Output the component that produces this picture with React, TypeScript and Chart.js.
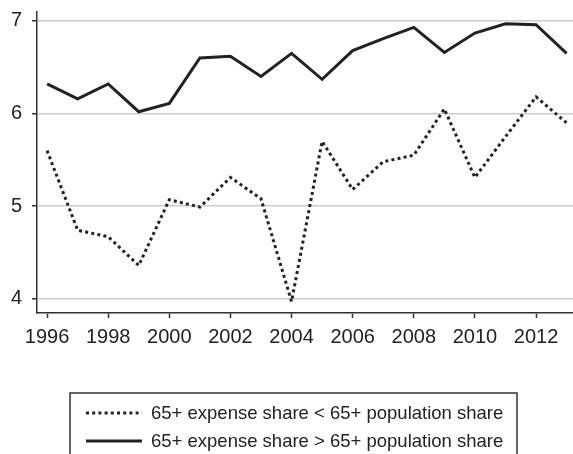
import React, { useEffect, useRef } from "react";
import { Chart, registerables } from "chart.js";

Chart.register(...registerables);

// Survey years
const years = [
  1996, 1997, 1998, 1999, 2000, 2001, 2002, 2003, 2004,
  2005, 2006, 2007, 2008, 2009, 2010, 2011, 2012, 2013,
];

// Group where the 65+ expense share is below the 65+ population share
const belowShare = [
  5.6, 4.74, 4.67, 4.36, 5.07, 4.99, 5.31, 5.08, 3.97,
  5.7, 5.18, 5.48, 5.55, 6.05, 5.31, 5.75, 6.18, 5.9,
];

// Group where the 65+ expense share is above the 65+ population share
const aboveShare = [
  6.32, 6.16, 6.32, 6.02, 6.11, 6.6, 6.62, 6.4, 6.65,
  6.37, 6.68, 6.81, 6.93, 6.66, 6.87, 6.97, 6.96, 6.65,
];

const xTickLabels = [1996, 1998, 2000, 2002, 2004, 2006, 2008, 2010, 2012];
const yTickLabels = [4, 5, 6, 7];

const seriesNames = [
  "65+ expense share < 65+ population share",
  "65+ expense share > 65+ population share",
];

const FONT = "'Liberation Sans', Arial, Helvetica, sans-serif";
const INK = "#222222";
const AXIS = "#333333";

// Boxed legend drawn below the x axis
const boxLegend = {
  id: "boxLegend",
  afterDraw(chart: Chart) {
    const ctx = chart.ctx;
    ctx.save();
    ctx.strokeStyle = AXIS;
    ctx.lineWidth = 1.5;
    ctx.strokeRect(70, 393, 447, 80);
    const rows = [413, 441];
    chart.data.datasets.forEach((ds: any, i: number) => {
      const y = rows[i];
      ctx.beginPath();
      ctx.strokeStyle = ds.borderColor;
      ctx.lineWidth = ds.borderWidth;
      ctx.lineCap = "butt";
      ctx.setLineDash(ds.borderDash || []);
      ctx.moveTo(86, y);
      ctx.lineTo(142, y);
      ctx.stroke();
      ctx.setLineDash([]);
      ctx.fillStyle = INK;
      ctx.font = `18.5px ${FONT}`;
      ctx.textBaseline = "middle";
      ctx.textAlign = "left";
      ctx.fillText(ds.label, 151, y + 1);
    });
    ctx.restore();
  },
};

export default function App() {
  const canvasRef = useRef<HTMLCanvasElement | null>(null);

  useEffect(() => {
    if (!canvasRef.current) return;
    const chart = new Chart(canvasRef.current, {
      type: "line",
      data: {
        datasets: [
          {
            label: seriesNames[0],
            data: years.map((x, i) => ({ x, y: belowShare[i] })),
            borderColor: INK,
            borderWidth: 3,
            borderDash: [3, 3.2],
            borderCapStyle: "butt",
            pointRadius: 0,
            tension: 0,
            fill: false,
          },
          {
            label: seriesNames[1],
            data: years.map((x, i) => ({ x, y: aboveShare[i] })),
            borderColor: INK,
            borderWidth: 3,
            pointRadius: 0,
            tension: 0,
            fill: false,
          },
        ],
      },
      options: {
        responsive: false,
        animation: false,
        layout: { padding: { top: 12, left: 0, right: 0, bottom: 0 } },
        plugins: {
          legend: { display: false },
          tooltip: { enabled: false },
        },
        scales: {
          x: {
            type: "linear",
            min: 1995.67,
            max: 2013.21,
            afterBuildTicks: (scale: any) => {
              scale.ticks = xTickLabels.map((v) => ({ value: v }));
            },
            afterFit: (scale: any) => {
              scale.height = 141;
              scale.paddingLeft = 0;
              scale.paddingRight = 0;
            },
            grid: {
              display: true,
              drawOnChartArea: false,
              drawTicks: true,
              tickLength: 5,
              tickColor: AXIS,
              tickWidth: 1.5,
            },
            border: { display: true, color: AXIS, width: 1.5 },
            ticks: {
              color: INK,
              font: { family: FONT, size: 20 },
              padding: 7,
              maxRotation: 0,
              autoSkip: false,
              callback: (v: any) => String(v),
            },
          },
          y: {
            type: "linear",
            min: 3.846,
            max: 7.097,
            afterBuildTicks: (scale: any) => {
              scale.ticks = yTickLabels.map((v) => ({ value: v }));
            },
            afterFit: (scale: any) => {
              scale.width = 37;
              scale.paddingTop = 0;
              scale.paddingBottom = 0;
            },
            grid: {
              display: true,
              drawOnChartArea: true,
              color: "#cccccc",
              lineWidth: 1.5,
              drawTicks: true,
              tickLength: 5,
              tickColor: AXIS,
              tickWidth: 1.5,
            },
            border: { display: true, color: AXIS, width: 1.5 },
            ticks: {
              color: INK,
              font: { family: FONT, size: 20 },
              padding: 10,
              callback: (v: any) => String(v),
            },
          },
        },
      },
      plugins: [boxLegend],
    });
    return () => chart.destroy();
  }, []);

  return (
    <div style={{ position: "absolute", left: 0, top: 0, width: 573, height: 454, background: "#fff" }}>
      <canvas ref={canvasRef} width={573} height={454} />
    </div>
  );
}
